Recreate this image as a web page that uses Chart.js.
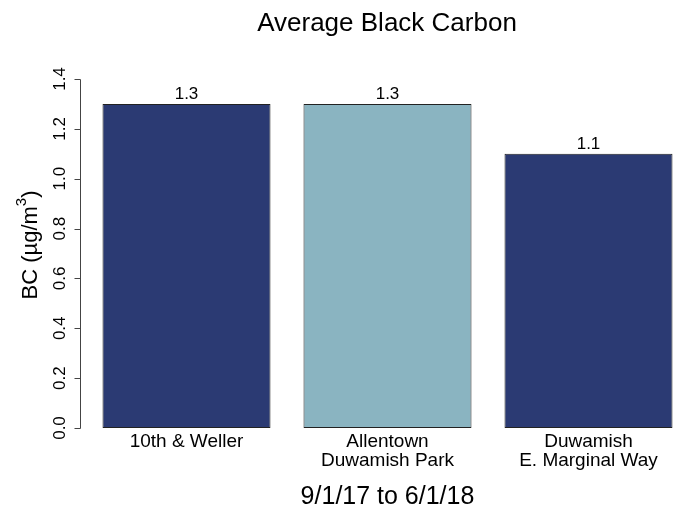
<!DOCTYPE html>
<html>
<head>
<meta charset="utf-8">
<script src="https://cdn.jsdelivr.net/npm/chart.js@4.4.1/dist/chart.umd.min.js"></script>
<style>
  html, body { margin: 0; padding: 0; background: #fff; overflow: hidden; }
  #wrap { width: 678px; height: 510px; overflow: hidden; }
</style>
</head>
<body>
<div id="wrap"><canvas id="chart" width="700" height="510"></canvas></div>
<script>
const sites = [['10th & Weller'], ['Allentown', 'Duwamish Park'], ['Duwamish', 'E. Marginal Way']];
const bcValues = [1.3, 1.3, 1.1];
const barColors = ['#2b3a73', '#8ab4c1', '#2b3a73'];
const yTicks = [0, 0.2, 0.4, 0.6, 0.8, 1.0, 1.2, 1.4];

const FONT = '"Liberation Sans", Arial, sans-serif';

// R-style y axis, title and value labels
const rStyle = {
    id: 'rStyle',
    afterDraw(chart) {
        const c = chart.ctx;
        const y = chart.scales.y;
        const axisX = 80;
        c.save();
        c.strokeStyle = '#444';
        c.fillStyle = '#000';
        c.lineWidth = 1;
        c.beginPath();
        c.moveTo(axisX + 0.5, Math.round(y.getPixelForValue(0)) + 0.5);
        c.lineTo(axisX + 0.5, Math.round(y.getPixelForValue(1.4)) + 0.5);
        yTicks.forEach(v => {
            const py = Math.round(y.getPixelForValue(v)) + 0.5;
            c.moveTo(axisX + 0.5, py);
            c.lineTo(axisX - 5.5, py);
        });
        c.stroke();

        c.font = '17px ' + FONT;
        c.textAlign = 'center';
        c.textBaseline = 'middle';
        yTicks.forEach(v => {
            c.save();
            c.translate(60, y.getPixelForValue(v));
            c.rotate(-Math.PI / 2);
            c.fillText(v.toFixed(1), 0, 0);
            c.restore();
        });

        // y axis title with superscript
        c.save();
        c.translate(31, 245);
        c.rotate(-Math.PI / 2);
        c.font = '22px ' + FONT;
        const main = 'BC (µg/m';
        const w1 = c.measureText(main).width;
        c.font = '15px ' + FONT;
        const w2 = c.measureText('3').width;
        c.font = '22px ' + FONT;
        const w3 = c.measureText(')').width;
        let x0 = -(w1 + w2 + w3) / 2;
        c.textAlign = 'left';
        c.fillText(main, x0, 0);
        c.font = '15px ' + FONT;
        c.fillText('3', x0 + w1, -9);
        c.font = '22px ' + FONT;
        c.fillText(')', x0 + w1 + w2, 0);
        c.restore();

        // title
        c.font = '26px ' + FONT;
        c.textAlign = 'center';
        c.fillText('Average Black Carbon', 387, 24);

        // value labels
        const meta = chart.getDatasetMeta(0);
        c.font = '17px ' + FONT;
        c.textBaseline = 'bottom';
        meta.data.forEach((bar, i) => {
            c.fillText(bcValues[i].toFixed(1), bar.x, bar.y - 1);
        });
        c.restore();
    }
};

new Chart(document.getElementById('chart'), {
    type: 'bar',
    data: {
        labels: sites,
        datasets: [{
            data: bcValues,
            backgroundColor: barColors,
            borderColor: '#222222',
            borderWidth: 1,
            borderSkipped: false,
            categoryPercentage: 1,
            barPercentage: 168 / 201
        }]
    },
    options: {
        responsive: false,
        animation: false,
        layout: { padding: { left: 86, right: 11, top: 79, bottom: 0 } },
        plugins: {
            legend: { display: false },
            tooltip: { enabled: false }
        },
        scales: {
            x: {
                grid: { display: false, drawTicks: false },
                border: { display: false },
                ticks: {
                    padding: 4,
                    color: '#000',
                    maxRotation: 0,
                    font: { family: FONT, size: 19, lineHeight: 1.0 }
                },
                title: {
                    display: true,
                    text: '9/1/17 to 6/1/18',
                    color: '#000',
                    font: { family: FONT, size: 25, lineHeight: 1.0 },
                    padding: { top: 11, bottom: 0 }
                }
            },
            y: {
                display: false,
                min: 0,
                max: 1.4
            }
        }
    },
    plugins: [rStyle]
});
</script>
</body>
</html>
